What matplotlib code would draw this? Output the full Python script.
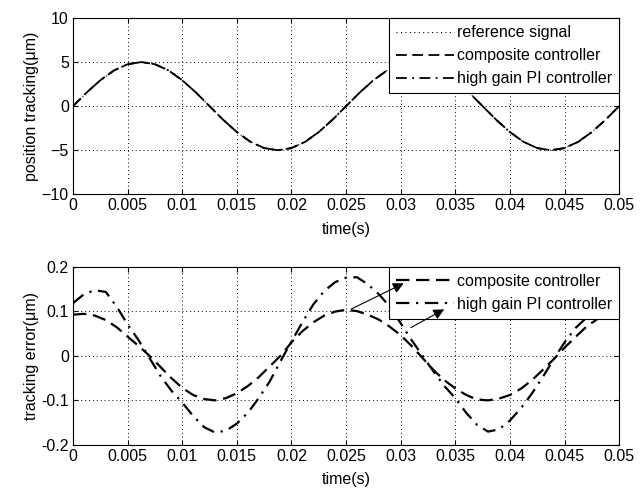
import numpy as np
import matplotlib
matplotlib.use("Agg")
import matplotlib.pyplot as plt

plt.rcParams['font.family'] = ['Liberation Sans', 'DejaVu Sans']
plt.rcParams['font.size'] = 11.5

# top plot: position tracking (um), sampled every 1.25 ms
t_pos = np.arange(41) * 0.00125
ref_signal = [0, 1.55, 2.94, 4.05, 4.76, 5.0, 4.76, 4.05, 2.94, 1.55,
              0, -1.55, -2.94, -4.05, -4.76, -5.0, -4.76, -4.05, -2.94, -1.55,
              0, 1.55, 2.94, 4.05, 4.76, 5.0, 4.76, 4.05, 2.94, 1.55,
              0, -1.55, -2.94, -4.05, -4.76, -5.0, -4.76, -4.05, -2.94, -1.55, 0]
composite_pos = list(ref_signal)
pi_pos = list(ref_signal)

# bottom plot: tracking error (um), sampled every 1 ms
t_err = np.arange(49) * 0.001
composite_err = [0.092, 0.094, 0.090, 0.080, 0.064, 0.043, 0.022, 0.000, -0.025, -0.050,
                 -0.072, -0.088, -0.097, -0.100, -0.095, -0.084, -0.068, -0.048, -0.024, 0.000,
                 0.030, 0.055, 0.075, 0.090, 0.099, 0.103, 0.100, 0.092, 0.081, 0.065,
                 0.046, 0.022, -0.005, -0.032, -0.055, -0.073, -0.088, -0.098, -0.100, -0.096,
                 -0.088, -0.074, -0.055, -0.032, -0.008, 0.018, 0.042, 0.065, 0.082]
pi_err = [0.118, 0.138, 0.147, 0.143, 0.110, 0.070, 0.035, -0.005, -0.045, -0.078,
          -0.105, -0.135, -0.160, -0.172, -0.168, -0.152, -0.128, -0.095, -0.058, -0.012,
          0.032, 0.075, 0.115, 0.145, 0.165, 0.175, 0.176, 0.160, 0.138, 0.110,
          0.073, 0.035, 0.000, -0.035, -0.068, -0.095, -0.128, -0.155, -0.170, -0.165,
          -0.145, -0.118, -0.085, -0.048, -0.008, 0.030, 0.062, 0.085, 0.098]

xticks = [0, 0.005, 0.01, 0.015, 0.02, 0.025, 0.03, 0.035, 0.04, 0.045, 0.05]
xticklabels = ['0', '0.005', '0.01', '0.015', '0.02', '0.025', '0.03', '0.035', '0.04', '0.045', '0.05']

fig = plt.figure(figsize=(6.44, 4.91), dpi=100)
ax1 = fig.add_axes([0.1134, 0.6043, 0.848, 0.359])
ax2 = fig.add_axes([0.1134, 0.0937, 0.848, 0.3635])

dot = (0, (1, 3))
dash = (0, (6, 3))
dashdot = (0, (6, 3, 1, 3))

ax1.plot(t_pos, ref_signal, color='k', lw=0.8, linestyle=dot, label='reference signal')
ax1.plot(t_pos, composite_pos, color='k', lw=1.3, linestyle=dash, label='composite controller')
ax1.plot(t_pos, pi_pos, color='k', lw=1.3, linestyle=dashdot, label='high gain PI controller')

ax2.plot(t_err, composite_err, color='k', lw=1.6, linestyle=dash, label='composite controller')
ax2.plot(t_err, pi_err, color='k', lw=1.6, linestyle=dashdot, label='high gain PI controller')

for ax in (ax1, ax2):
    ax.set_xlim(0, 0.05)
    ax.set_xticks(xticks)
    ax.set_xticklabels(xticklabels)
    ax.grid(True, color='k', linestyle=dot, lw=0.7)
    ax.tick_params(direction='in', top=True, right=True, length=3.5, width=0.8, pad=3)
    for s in ax.spines.values():
        s.set_linewidth(0.8)
    ax.set_xlabel('time(s)', labelpad=6)
    leg = ax.legend(loc='upper right', bbox_to_anchor=(1, 1), borderaxespad=0,
                    fancybox=False, framealpha=1, edgecolor='k', handlelength=3.6,
                    handletextpad=0.2, borderpad=0.45, labelspacing=0.5)
    leg.get_frame().set_linewidth(0.8)

ax1.set_ylim(-10, 10)
ax1.set_yticks([-10, -5, 0, 5, 10])
ax1.set_ylabel('position tracking(\u03bcm)')
ax1.yaxis.set_label_coords(-0.063, 0.5)

ax2.set_ylim(-0.2, 0.2)
ax2.set_yticks([-0.2, -0.1, 0, 0.1, 0.2])
ax2.set_yticklabels(['-0.2', '-0.1', '0', '0.1', '0.2'])
ax2.set_ylabel('tracking error(\u03bcm)')
ax2.yaxis.set_label_coords(-0.063, 0.5)

arrow = dict(arrowstyle='-|>', color='k', lw=0.8, mutation_scale=16)
ax2.annotate('', xy=(0.0305, 0.165), xytext=(0.02525, 0.102),
             arrowprops=arrow, zorder=10, annotation_clip=False)
ax2.annotate('', xy=(0.0342, 0.107), xytext=(0.0307, 0.06),
             arrowprops=arrow, zorder=10, annotation_clip=False)

fig.savefig('out.png', dpi=100)
